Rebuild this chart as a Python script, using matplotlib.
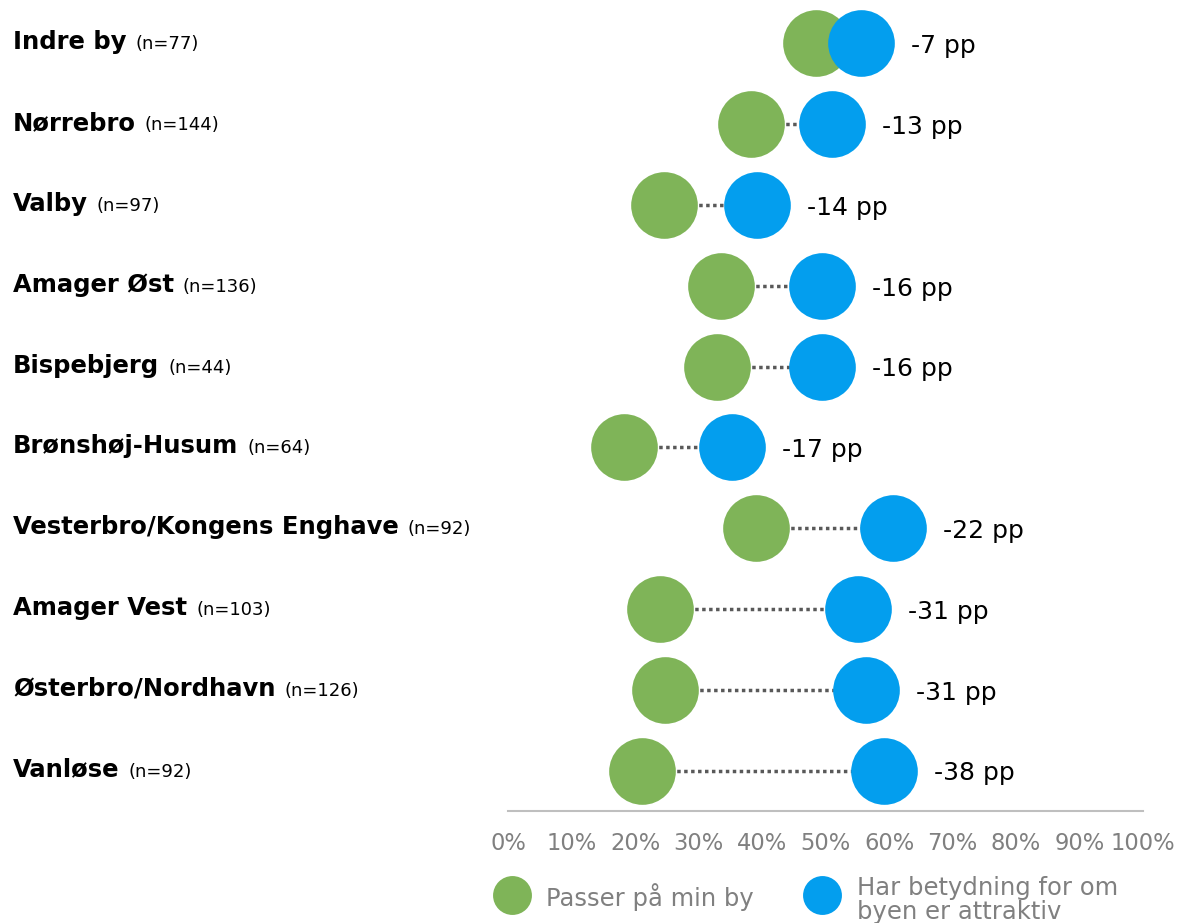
import matplotlib.pyplot as plt
from matplotlib.lines import Line2D

plt.rcParams['font.family'] = ['DejaVu Sans']

districts = ["Indre by", "Nørrebro", "Valby", "Amager Øst", "Bispebjerg",
             "Brønshøj-Husum", "Vesterbro/Kongens Enghave", "Amager Vest",
             "Østerbro/Nordhavn", "Vanløse"]
n_resp = [77, 144, 97, 136, 44, 64, 92, 103, 126, 92]
passer = [48.5, 38.3, 24.6, 33.5, 32.9, 18.3, 39.1, 24.0, 24.8, 21.1]
betydning = [55.6, 51.1, 39.2, 49.5, 49.5, 35.3, 60.7, 55.1, 56.4, 59.2]
diff_labels = ["-7 pp", "-13 pp", "-14 pp", "-16 pp", "-16 pp", "-17 pp",
               "-22 pp", "-31 pp", "-31 pp", "-38 pp"]
ticks = list(range(0, 101, 10))

green = "#7fb458"
blue = "#039eee"
grey = "#808080"

fig = plt.figure(figsize=(11.78, 9.23), dpi=100)
ax = fig.add_axes([508 / 1178, 1 - 811 / 923, 635 / 1178, 808 / 923])
ax.set_xlim(0, 100)
ax.set_ylim(len(districts) - 0.5, -0.5)

for i in range(len(districts)):
    ax.plot([passer[i], betydning[i]], [i, i], linestyle=(0, (1, 1)),
            color="#595959", linewidth=2.5, zorder=1)
ax.plot(passer, range(len(districts)), "o", color=green, markersize=48,
        markeredgewidth=0, zorder=2)
ax.plot(betydning, range(len(districts)), "o", color=blue, markersize=48,
        markeredgewidth=0, zorder=3)

for i, lab in enumerate(diff_labels):
    ax.annotate(lab, (betydning[i], i), xytext=(36, -7), textcoords="offset points",
                ha="left", va="baseline", fontsize=18, color="black")

for s in ["top", "right", "left"]:
    ax.spines[s].set_visible(False)
ax.spines["bottom"].set_color("#bfbfbf")
ax.spines["bottom"].set_linewidth(1.5)
ax.set_yticks([])
ax.set_xticks(ticks)
ax.set_xticklabels([f"{t}%" for t in ticks], fontsize=16.3, color=grey)
ax.tick_params(axis="x", length=0, pad=15)

# category labels, bold name followed by (n=..)
fig.canvas.draw()
renderer = fig.canvas.get_renderer()
for i, (name, n) in enumerate(zip(districts, n_resp)):
    y_disp = ax.transData.transform((0, i))[1] - 6
    y_fig = fig.transFigure.inverted().transform((0, y_disp))[1]
    t = fig.text(13 / 1178, y_fig, name, fontsize=17.5, fontweight="bold",
                 ha="left", va="baseline", color="black")
    bb = t.get_window_extent(renderer)
    x_next = (bb.x1 + 9) / 1178
    fig.text(x_next, y_fig, f"(n={n})", fontsize=13, ha="left",
             va="baseline", color="black")

# legend
fig.add_artist(Line2D([512 / 1178], [1 - 895 / 923], marker="o", color=green,
                      markersize=28, markeredgewidth=0, linestyle="none"))
fig.text(546 / 1178, 1 - 897 / 923, "Passer på min by", fontsize=17.5,
         color=grey, ha="left", va="center")
fig.add_artist(Line2D([822 / 1178], [1 - 895 / 923], marker="o", color=blue,
                      markersize=28, markeredgewidth=0, linestyle="none"))
fig.text(857 / 1178, 1 - 900 / 923, "Har betydning for om\nbyen er attraktiv",
         fontsize=17.5, color=grey, ha="left", va="center", linespacing=0.95)

fig.savefig("out.png", dpi=100)
